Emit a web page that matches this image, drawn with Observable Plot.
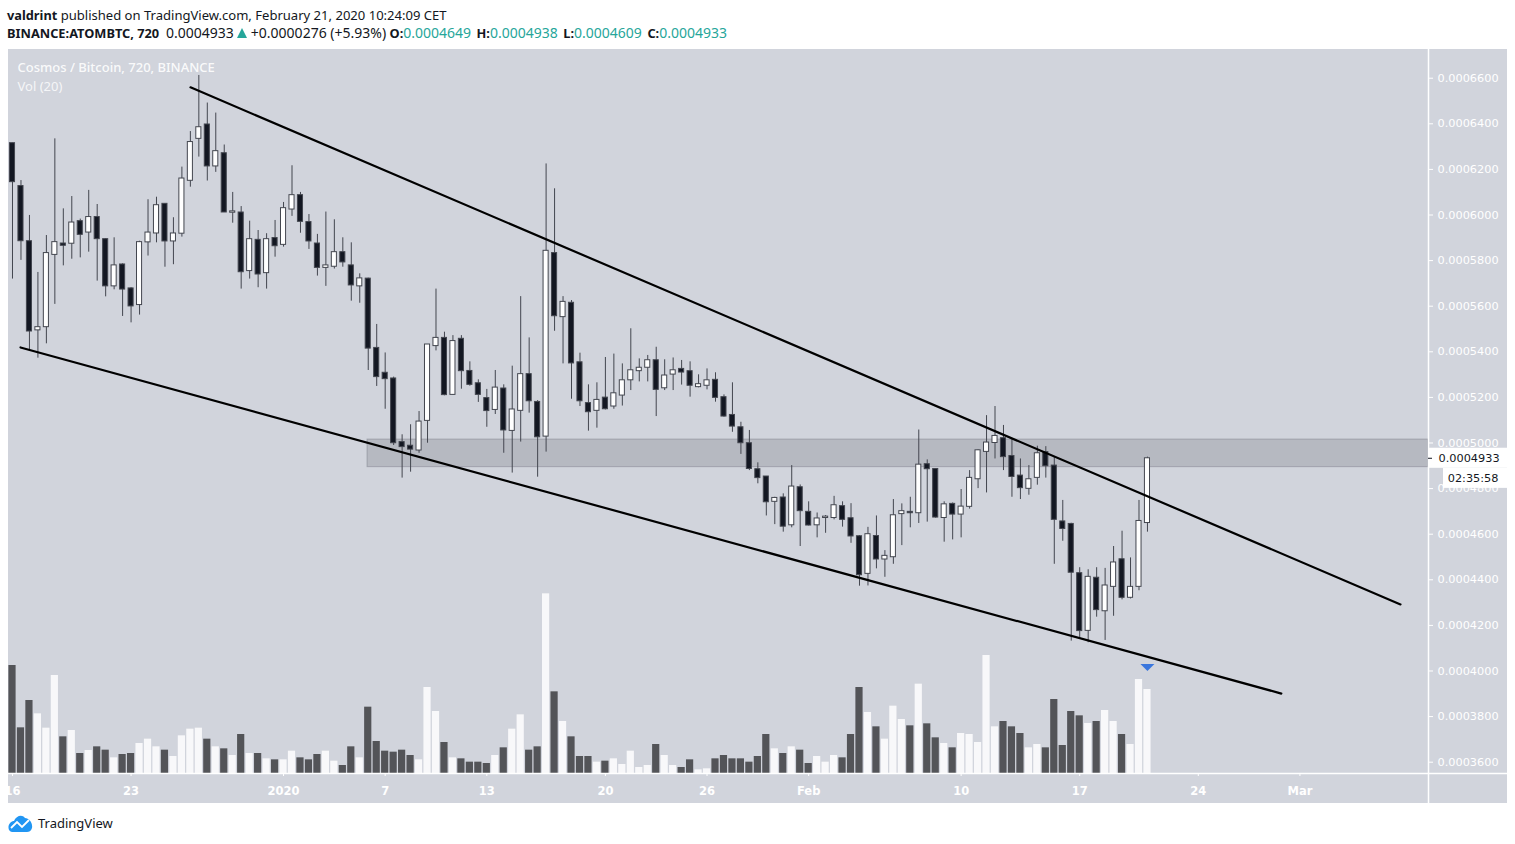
<!DOCTYPE html>
<html>
<head>
<meta charset="utf-8">
<script src="https://cdn.jsdelivr.net/npm/d3@7"></script>
<script src="https://cdn.jsdelivr.net/npm/@observablehq/plot@0.6"></script>
<style>
html,body{margin:0;padding:0;background:#fff;width:1515px;height:844px;overflow:hidden}
#head{height:49px;box-sizing:border-box;padding:6px 0 0 7px;font:13.05px/18px "Noto Sans",sans-serif;color:#131722;white-space:pre}
#head b{font-weight:700;font-size:12.8px}
#head .v{color:#26a69a}
#head .n{font-size:14px}
#head .tri{display:inline-block;width:0;height:0;border-left:5.5px solid transparent;border-right:5.5px solid transparent;border-bottom:10px solid #26a69a;margin:0 4px 0 3px}
#head .g{margin-left:5.5px}
#chart{margin-left:8px;width:1499px;height:754px;line-height:0}
#chart svg{display:block}
#foot{height:39px;display:flex;align-items:center;padding-left:8px;font:13px "Noto Sans",sans-serif;color:#131722}
#foot svg{margin-right:5px}
</style>
</head>
<body>
<div id="head"><b>valdrint</b> published on TradingView.com, February 21, 2020 10:24:09 CET
<b>BINANCE:ATOMBTC, 720</b>  <span class="n">0.0004933</span><span class="tri"></span><span class="n">+0.0000276 (+5.93%)</span> <b>O:</b><span class="v n">0.0004649</span><b class="g">H:</b><span class="v n">0.0004938</span><b class="g">L:</b><span class="v n">0.0004609</span><b class="g">C:</b><span class="v n">0.0004933</span></div>
<div id="chart"></div>
<div id="foot"><svg width="25" height="18" viewBox="0 0 25 18"><path d="M1 16C-1 11 3 7 6 7 8 2 14 0 17 4 21 4 25 9 24 14 23 17 21 18 19 18H4C3 18 2 17 1 16Z" fill="#2196f3"/><path d="M3 14 9 8 14 13 21 6" fill="none" stroke="#fff" stroke-width="1.8"/></svg>TradingView</div>
<script>
// Prices are in units of 0.0000001 BTC, one entry per 12-hour candle from 16 Dec 2019.
const opens = [6315,6127,5885,5494,5508,5825,5875,5874,5973,5923,
5991,5894,5687,5783,5678,5605,5880,5919,6049,5884,
5918,6150,6334,6397,6213,6271,6010,6011,5754,5891,
5745,5899,5869,6024,6087,5969,5875,5768,5773,5837,
5779,5687,5721,5417,5308,5283,5004,4988,4967,5097,
5425,5461,5211,5457,5316,5262,5197,5145,5239,5053,
5141,5302,5180,5028,5833,5552,5615,5354,5175,5141,
5199,5160,5208,5275,5315,5330,5363,5240,5300,5325,
5315,5245,5251,5277,5201,5123,5069,4999,4885,4853,
4742,4761,4639,4806,4698,4639,4671,4671,4723,4670,
4591,4426,4592,4489,4499,4688,4698,4692,4907,4886,
4671,4733,4686,4720,4841,4961,5000,5021,4943,4857,
4799,4847,4960,4901,4656,4645,4429,4176,4409,4262,
4369,4490,4321,4369,4649];
const highs = [6315,6151,5998,5748,5910,6334,6027,6081,5982,6108,
6046,5896,5900,5786,5681,5885,6067,6078,6049,5988,
6210,6366,6612,6491,6447,6307,6099,6037,5973,5932,
5918,5976,6055,6216,6099,6002,5915,6013,5979,5900,
5878,5742,5723,5520,5395,5289,5036,5080,5138,5432,
5675,5486,5471,5471,5356,5277,5235,5318,5255,5337,
5642,5461,5186,6224,6115,5642,5625,5394,5255,5264,
5375,5390,5347,5501,5369,5384,5420,5365,5373,5362,
5356,5299,5325,5308,5211,5264,5091,5055,4913,4853,
4762,4777,4901,4816,4742,4693,4682,4766,4742,4734,
4594,4630,4680,4528,4752,4733,4762,5057,4926,4888,
4742,4737,4796,4879,4970,5120,5160,5077,5018,4930,
4901,4986,4984,4938,4748,4648,4453,4444,4453,4450,
4546,4613,4496,4748,4938];
const lows = [5719,5801,5406,5372,5435,5608,5777,5806,5812,5837,
5710,5641,5672,5555,5527,5561,5820,5878,5771,5782,
5903,6122,6254,6149,6187,6011,5964,5675,5719,5681,
5675,5815,5859,5994,5920,5849,5732,5687,5763,5771,
5622,5613,5318,5248,5148,4989,4846,4872,4955,4999,
5404,5207,5209,5236,5249,5178,5069,5125,4955,4868,
5004,5131,4850,4960,5490,5347,5192,5160,5052,5065,
5145,5148,5162,5230,5268,5268,5116,5230,5230,5254,
5201,5242,5233,5179,5113,5047,4950,4879,4821,4680,
4642,4609,4628,4546,4636,4584,4604,4663,4631,4560,
4372,4373,4448,4411,4468,4550,4628,4647,4653,4670,
4565,4575,4584,4710,4800,4781,4930,4879,4762,4752,
4771,4815,4846,4468,4569,4131,4144,4124,4236,4134,
4240,4312,4316,4352,4609];
const closes = [6144,5885,5489,5508,5833,5881,5865,5967,5913,5991,
5894,5687,5779,5673,5599,5881,5923,6043,5884,5919,
6160,6320,6385,6213,6280,6011,6016,5749,5894,5739,
5894,5863,6030,6087,5970,5884,5768,5779,5837,5792,
5691,5722,5414,5289,5280,4999,4982,4971,5094,5432,
5461,5210,5447,5315,5255,5211,5140,5243,5055,5147,
5302,5183,5025,5843,5556,5619,5349,5183,5135,5189,
5148,5218,5275,5319,5330,5363,5233,5296,5319,5309,
5251,5258,5275,5198,5116,5072,4999,4886,4846,4740,
4759,4633,4809,4701,4638,4669,4677,4727,4663,4590,
4420,4600,4489,4505,4683,4701,4692,4905,4885,4673,
4731,4686,4721,4847,4968,5002,5031,4938,4851,4802,
4841,4955,4898,4663,4623,4431,4175,4413,4267,4375,
4476,4321,4369,4658,4933];
// Volume, in relative units.
const volumes = [324,137,219,179,136,294,110,129,60,69,
80,70,47,57,60,90,103,80,70,51,
113,133,136,103,80,74,54,117,60,60,
44,41,41,67,47,41,57,67,37,24,
80,47,199,96,67,64,70,54,41,258,
186,93,47,44,34,34,30,54,77,133,
176,70,80,539,245,156,110,51,51,34,
37,44,27,67,18,24,87,54,24,18,
41,11,14,44,54,44,44,34,51,117,
74,60,80,70,30,51,34,54,47,117,
258,183,140,103,202,162,143,268,149,107,
90,77,120,117,93,354,140,156,140,120,
77,87,77,222,84,186,173,150,156,189,
156,117,87,282,252];
const priceTicks = [3600,3800,4000,4200,4400,4600,4800,5000,5200,5400,5600,5800,6000,6200,6400,6600];
const dateTicks = ["2019-12-16","2019-12-23","2020-01-01","2020-01-07","2020-01-13","2020-01-20","2020-01-26","2020-02-01","2020-02-10","2020-02-17","2020-02-24","2020-03-01"];
const dateLabels = ["16","23","2020","7","13","20","26","Feb","10","17","24","Mar"];
const upperLine = {x:["2019-12-26T12:10Z","2020-03-06T22:30Z"], y:[6560,4292]};
const lowerLine = {x:["2019-12-16T11:20Z","2020-02-28T21:40Z"], y:[5419,3901]};
const band = {x1:"2020-01-05T23:00Z", x2:"2020-03-08T14:00Z", y1:4894, y2:5015};
const lastPrice = 4933;

const D = s => new Date(s);
const start = Date.UTC(2019,11,16);
const HOUR = 3600e3;
const candles = opens.map((o,i)=>{
  const t = start + i*12*HOUR;
  return {t:new Date(t), x1:new Date(t-3.6*HOUR), x2:new Date(t+3.6*HOUR),
          vx1:new Date(t-5.1*HOUR), vx2:new Date(t+5.1*HOUR),
          open:o, high:highs[i], low:lows[i], close:closes[i], vol:volumes[i], up:closes[i]>=o};
});
const last = candles[candles.length-1];

const paneRight = D("2020-03-08T14:10Z");    // edge between the plot and the price pane
const chartLeft = D("2019-12-15T18:20Z");
const chartRight = new Date(+paneRight + 79/16.94*24*HOUR);
const paneAt = px => new Date(+paneRight + px/16.94*24*HOUR);
const yBase = 3550.4, yTop = 6725.9, yFloor = 3419;
const volY = v => yBase + v*1.462;           // lower pane shares the frame with price
const lineData = l => l.x.map((x,i)=>({x:D(x),y:l.y[i]}));

const GRID="#ffffff", BORDER="#43464f", DARK="#131722";
const chart = Plot.plot({
  width:1499, height:754,
  marginLeft:0, marginRight:79, marginTop:0, marginBottom:30,
  style:{background:"#d1d4dc", fontFamily:"'DejaVu Sans',sans-serif", overflow:"hidden"},
  x:{type:"utc", domain:[chartLeft,paneRight], axis:null},
  y:{domain:[yBase,yTop], axis:null},
  marks:[
    Plot.axisY({anchor:"right", ticks:priceTicks, tickSize:4, tickPadding:5, stroke:"#fff", fill:"#fff",
      fontSize:11.3, tickFormat:d=>(d/1e7).toFixed(7), label:null}),
    Plot.axisX({anchor:"bottom", ticks:dateTicks.map(s=>new Date(s+"T00:00Z")), tickSize:3, tickPadding:10, stroke:"#fff", fill:"#fff",
      fontSize:11.5, fontWeight:600, tickFormat:(d,i)=>dateLabels[i], label:null}),
    Plot.rect([band],{x1:d=>D(d.x1),x2:d=>D(d.x2),y1:"y1",y2:"y2",fill:"#787b86",fillOpacity:0.3,stroke:"#787b86",strokeOpacity:0.45,strokeWidth:1}),
    Plot.rect(candles,{x1:"vx1",x2:"vx2",y1:()=>yBase,y2:d=>volY(d.vol),fill:d=>d.up?"#f8f8fa":"#535458"}),
    Plot.ruleX(candles,{x:"t",y1:"low",y2:"high",stroke:BORDER,strokeWidth:1}),
    Plot.rect(candles,{x1:"x1",x2:"x2",y1:"open",y2:"close",fill:d=>d.up?"#ffffff":DARK,stroke:BORDER,strokeWidth:1}),
    Plot.line(lineData(upperLine),{x:"x",y:"y",stroke:"#000",strokeWidth:2.2}),
    Plot.line(lineData(lowerLine),{x:"x",y:"y",stroke:"#000",strokeWidth:2.2}),
    Plot.dot([{x:last.t,y:4015}],{x:"x",y:"y",fill:"#3a76dd",stroke:null,
      symbol:{draw(c){c.moveTo(-7,-3.5);c.lineTo(7,-3.5);c.lineTo(0,3.5);c.closePath();}}}),
    Plot.ruleY([yBase],{x1:chartLeft,x2:chartRight,stroke:GRID,strokeWidth:1.5}),
    Plot.ruleX([paneRight],{y1:yFloor,y2:yTop,stroke:GRID,strokeWidth:1.5}),
    Plot.rect([{}],{x1:()=>paneAt(1),x2:()=>chartRight,y1:()=>lastPrice-44,y2:()=>lastPrice+44,fill:"#fff"}),
    Plot.rect([{}],{x1:()=>paneAt(15),x2:()=>chartRight,y1:()=>lastPrice-132,y2:()=>lastPrice-44,fill:"#fff"}),
    Plot.ruleY([lastPrice],{x1:()=>paneRight,x2:()=>paneAt(4),stroke:"#131722"}),
    Plot.text([(lastPrice/1e7).toFixed(7)],{x:()=>paneAt(10),y:()=>lastPrice,text:d=>d,textAnchor:"start",fill:"#131722",fontSize:11.3}),
    Plot.text(["02:35:58"],{x:()=>paneAt(70),y:()=>lastPrice-88,text:d=>d,textAnchor:"end",fill:"#131722",fontSize:11.3}),
    Plot.text(["Cosmos / Bitcoin, 720, BINANCE"],{frameAnchor:"top-left",dx:9,dy:13,text:d=>d,fill:"#fff",fillOpacity:0.9,fontSize:13,fontWeight:500,fontFamily:"'Noto Sans',sans-serif",lineAnchor:"top"}),
    Plot.text(["Vol (20)"],{frameAnchor:"top-left",dx:9,dy:32,text:d=>d,fill:"#fff",fillOpacity:0.8,fontSize:13,fontFamily:"'Noto Sans',sans-serif",lineAnchor:"top"})
  ]
});
document.getElementById("chart").append(chart);
</script>
</body>
</html>
